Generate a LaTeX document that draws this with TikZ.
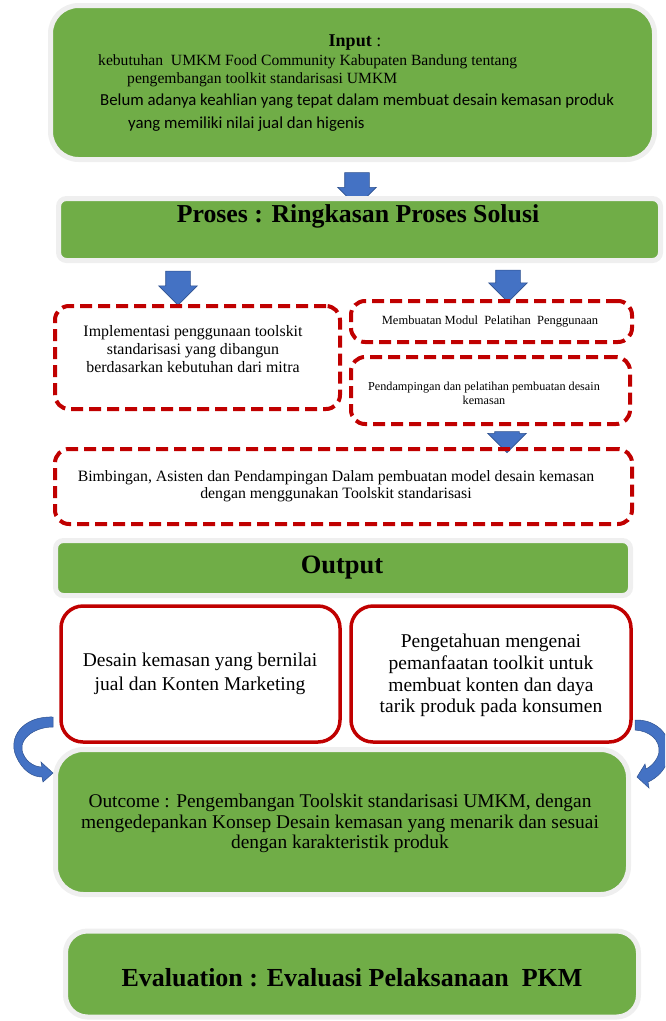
\documentclass[tikz,border=0pt]{standalone}
\usepackage{fontspec}
\setmainfont{Liberation Serif}
\newfontfamily\calibri{Carlito}
\usetikzlibrary{shapes.arrows}
\definecolor{boxgreen}{HTML}{70AD47}
\definecolor{boxrim}{HTML}{EFEFEF}
\definecolor{dashred}{HTML}{C00000}
\definecolor{arrowblue}{HTML}{4472C4}
\definecolor{arrowrim}{HTML}{2F528F}
\newcommand{\fs}[2]{\fontsize{#1}{#2}\selectfont}
\begin{document}
\begin{tikzpicture}[x=1pt,y=-1pt,
    greenbox/.style={draw=boxrim,line width=5pt,fill=boxgreen,inner sep=0pt},
    dashbox/.style={draw=dashred,line width=4pt,dash pattern=on 12pt off 6pt,rounded corners=14pt,inner sep=0pt},
    redbox/.style={draw=dashred,line width=3.5pt,fill=white,rounded corners=22pt,inner sep=0pt},
    downarrow/.style={single arrow,shape border rotate=270,fill=arrowblue,draw=arrowrim,line width=0.6pt,
      inner xsep=12pt,inner ysep=0pt,single arrow head extend=7pt},
    txt/.style={align=center,inner sep=0pt}]
\useasboundingbox (0,0) rectangle (665,1021);
\clip (0,0) rectangle (665,1021);

% input
\node[greenbox,rounded corners=28pt,minimum width=604pt,minimum height=154pt] (input) at (352.5,82.5) {};
\node[txt,font={\fs{18}{20}}] (intitle) at (355,43) {\textbf{Input} :};
\node[txt,anchor=west,font={\fs{15.6}{17}}] (inline1) at (98,62) {kebutuhan~ UMKM Food Community Kabupaten Bandung tentang};
\node[txt,anchor=west,font={\fs{15.6}{17}}] (inline2) at (127,80) {pengembangan toolkit standarisasi UMKM};
\node[txt,anchor=west,font={\calibri\fs{16.8}{18}}] (inline3) at (100,101) {Belum adanya keahlian yang tepat dalam membuat desain kemasan produk};
\node[txt,anchor=west,font={\calibri\fs{16.8}{18}}] (inline4) at (128,124) {yang memiliki nilai jual dan higenis};

\node[downarrow,minimum height=34pt] (arr0) at (357,183.5) {};

% proses
\node[greenbox,rounded corners=8pt,minimum width=602pt,minimum height=62pt] (proses) at (359.5,229.5) {};
\node[txt,font={\fs{25.8}{28}\bfseries}] (prosestext) at (358,216) {Proses : Ringkasan Proses Solusi};

\node[downarrow,minimum height=34pt] (arr1) at (178,282) {};
\node[downarrow,minimum height=32pt] (arr2) at (508,280) {};

% langkah solusi
\node[dashbox,minimum width=285pt,minimum height=103pt] (impl) at (197.5,357.5) {};
\node[txt,font={\fs{15.9}{18}}] (impltext) at (193,349) {Implementasi penggunaan toolskit\\standarisasi yang dibangun\\berdasarkan kebutuhan dari mitra};
\node[dashbox,minimum width=281pt,minimum height=41pt] (modul) at (491.5,321.5) {};
\node[txt,font={\fs{12.5}{15}}] (modultext) at (490,322) {Membuatan Modul~ Pelatihan~ Penggunaan};
\node[dashbox,minimum width=279pt,minimum height=67pt] (latih) at (490.5,390.5) {};
\node[txt,font={\fs{12.2}{14}}] (latihtext) at (484,393) {Pendampingan dan pelatihan pembuatan desain\\kemasan};
\node[downarrow,minimum height=21pt] (arr3) at (507,436) {};
\node[dashbox,minimum width=577pt,minimum height=75pt] (bimbing) at (343.5,486.5) {};
\node[txt,font={\fs{15.8}{17}}] (bimbingtext) at (336,486.5) {Bimbingan, Asisten dan Pendampingan Dalam pembuatan model desain kemasan\\dengan menggunakan Toolskit standarisasi};

% output
\node[greenbox,rounded corners=8pt,minimum width=575pt,minimum height=55pt] (output) at (343,568) {};
\node[txt,font={\fs{26.5}{28}\bfseries}] (outputtext) at (342,568) {Output};
\node[redbox,minimum width=279pt,minimum height=136pt] (hasil1) at (200.5,674) {};
\node[txt,font={\fs{19.5}{24}}] (hasil1text) at (200,674) {Desain kemasan yang bernilai\\jual dan Konten Marketing};
\node[redbox,minimum width=280pt,minimum height=136pt] (hasil2) at (491,674) {};
\node[txt,font={\fs{19.5}{21.7}}] (hasil2text) at (491,675.5) {Pengetahuan mengenai\\pemanfaatan toolkit untuk\\membuat konten dan daya\\tarik produk pada konsumen};

% outcome
\node[greenbox,rounded corners=28pt,minimum width=573pt,minimum height=145pt] (outcome) at (342,822) {};
\node[txt,font={\fs{19.4}{20.5}}] (outcometext) at (340,823.5) {Outcome : Pengembangan Toolskit standarisasi UMKM, dengan\\mengedepankan Konsep Desain kemasan yang menarik dan sesuai\\dengan karakteristik produk};

% panah lengkung
\fill[arrowblue,draw=arrowrim,line width=0.5pt] (53,717) .. controls (22,716) and (8,738) .. (16,756)
  .. controls (22,770) and (32,777) .. (42,777) -- (43,782) -- (53,773) -- (41,762) -- (42,767)
  .. controls (33,767) and (24,760) .. (22,750) .. controls (20,738) and (35,727) .. (53,727) -- cycle;
\fill[arrowblue,draw=arrowrim,line width=0.5pt] (635,720) .. controls (658,719) and (675,738) .. (668,760)
  .. controls (665,770) and (657,778) .. (648,782) -- (649,788) -- (637,777) -- (645,764) -- (646,769)
  .. controls (652,766) and (658,759) .. (659,752) .. controls (660,740) and (650,731) .. (635,730) -- cycle;

% evaluation
\node[greenbox,rounded corners=22pt,minimum width=573pt,minimum height=86pt] (eval) at (352,974) {};
\node[txt,font={\fs{26}{28}\bfseries}] (evaltext) at (352,978) {Evaluation : Evaluasi Pelaksanaan~ PKM};
\end{tikzpicture}
\end{document}
